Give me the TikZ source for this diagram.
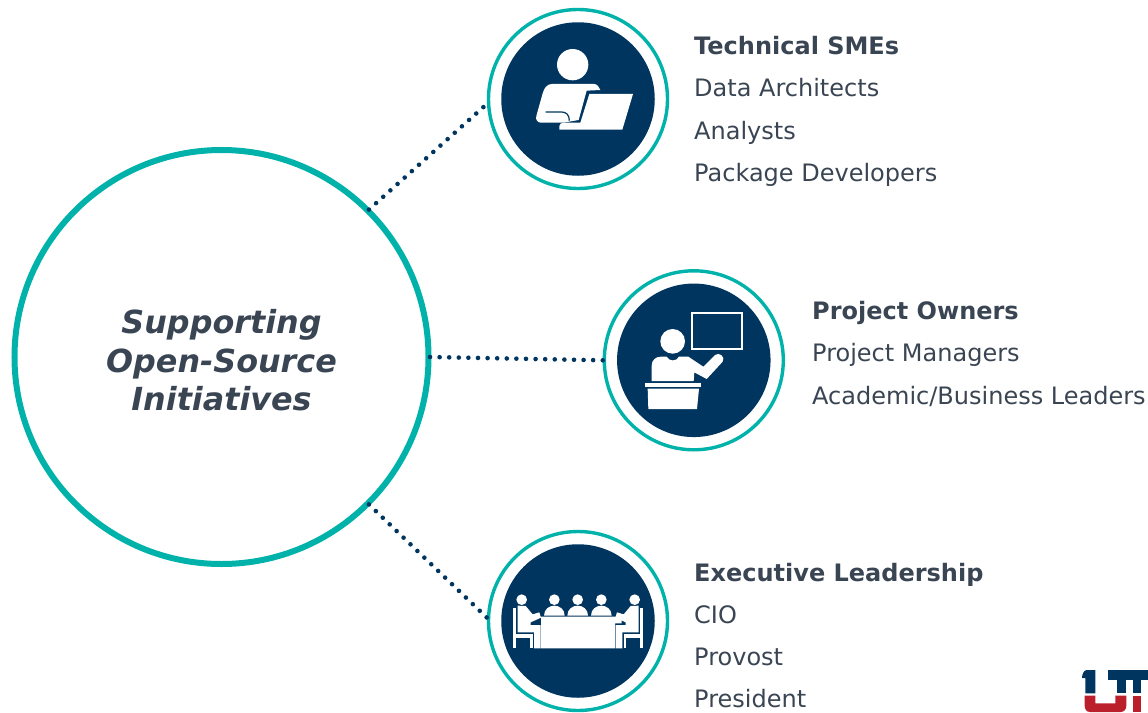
\documentclass[tikz,border=0pt]{standalone}
\usepackage{fontspec}
\setmainfont{DejaVu Sans}
\definecolor{navyblue}{HTML}{00355F}
\definecolor{tealring}{HTML}{00B2A9}
\definecolor{logored}{HTML}{BA1F2B}
\definecolor{slatetext}{HTML}{3A4553}
\newcommand{\seatedfigure}{
\fill [white] (125,224) circle [radius=16];
\fill [white] (100,248) rectangle (108,370);
\fill [white] (113,242) -- (137,243) -- (158,268) -- (178,262) -- (183,278) -- (152,292) -- (152,300) -- (182,300) -- (182,370) -- (162,370) -- (162,322) -- (113,322) -- cycle;
\fill [white] (108,328) rectangle (158,338);
\fill [white] (150,338) rectangle (158,370);
}
\begin{document}
\begin{tikzpicture}[x=1pt,y=-1pt]
\tikzstyle{hubring} = [circle, draw=tealring, line width=6pt, minimum size=414pt, outer sep=1.5pt, inner sep=0pt]
\tikzstyle{ring} = [circle, draw=tealring, line width=3.4pt, minimum size=179pt, outer sep=1.5pt, inner sep=0pt]
\tikzstyle{disc} = [circle, fill=navyblue, minimum size=153.5pt, inner sep=0pt]
\tikzstyle{dotline} = [navyblue, line width=4.6pt, line cap=round, dash pattern=on 0pt off 9.6pt]
\tikzstyle{listitem} = [anchor=west, inner sep=0pt, text height=17pt, text depth=5pt, text=slatetext, font=\fontsize{24}{28}\selectfont]
\tikzstyle{listhead} = [listitem, font=\fontsize{24}{28}\selectfont\bfseries]

\useasboundingbox (0,0) rectangle (1148,712);

\node (hub) [hubring] at (221.5,357) {};
\node (hublabel) [align=center, text=slatetext, font=\fontsize{31.8}{38.5}\selectfont\bfseries\itshape] at (221.5,360.5) {Supporting\\Open-Source\\Initiatives};

\node (techring) [ring] at (578,99) {};
\node (techdisc) [disc] at (techring.center) {};
\node (ownerring) [ring] at (693.8,360.3) {};
\node (ownerdisc) [disc] at (ownerring.center) {};
\node (execring) [ring] at (578,621) {};
\node (execdisc) [disc] at (execring.center) {};

\draw [dotline, shorten >=4pt] (hub.45) -- (techring.183.7);
\draw [dotline] (hub.0) -- (ownerring.180);
\draw [dotline] (hub.-45) -- (execring.178.3);

\matrix (techlist) [anchor=north west, row sep=20.5pt, inner sep=0pt] at (694,37)
{
\node (techhead) [listhead] {Technical SMEs}; \\
\node (architects) [listitem] {Data Architects}; \\
\node (analysts) [listitem] {Analysts}; \\
\node (developers) [listitem] {Package Developers}; \\
};

\matrix (ownerlist) [anchor=north west, row sep=20.5pt, inner sep=0pt] at (812,302)
{
\node (ownerhead) [listhead] {Project Owners}; \\
\node (managers) [listitem] {Project Managers}; \\
\node (leaders) [listitem] {Academic/Business Leaders}; \\
};

\matrix (execlist) [anchor=north west, row sep=20pt, inner sep=0pt] at (694,564)
{
\node (exechead) [listhead] {Executive Leadership}; \\
\node (cio) [listitem] {CIO}; \\
\node (provost) [listitem] {Provost}; \\
\node (president) [listitem] {President}; \\
};

\begin{scope}[shift={(480,0)},scale=1/3]
\fill [white] (278,194) circle [radius=47];
\fill [white] (215,252) -- (342,252) .. controls (352,252) and (358,262) .. (361,270) -- (320,272) -- (296,360) -- (250,368) -- (182,368) .. controls (172,368) and (166,358) .. (169,348) -- (188,280) .. controls (192,264) and (202,252) .. (215,252) -- cycle;
\draw [navyblue, line width=1.2pt] (197,336) -- (245,336) .. controls (258,336) and (268,344) .. (268,362);
\fill [white] (328,282) -- (459,282) -- (427,389) -- (238,389) -- (238,378) .. controls (238,372) and (244,368) .. (252,368) -- (301,368) -- cycle;
\end{scope}

\begin{scope}[shift={(595,265)},scale=1/3]
\fill [white] (233,229) circle [radius=37];
\draw [white, line width=1.8pt] (292,145) rectangle (441,251);
\fill [white] (170,348) -- (170,302) .. controls (170,285) and (182,275) .. (198,275) -- (215,275) .. controls (222,290) and (245,290) .. (252,275) -- (280,275) -- (325,305) -- (360,270) .. controls (372,260) and (392,275) .. (383,290) -- (335,342) -- (298,322) -- (296,348) -- cycle;
\fill [white] (150,353) rectangle (318,366);
\fill [white] (158,371) -- (312,371) -- (306,432) -- (160,432) -- cycle;
\end{scope}

\begin{scope}[shift={(480,525)},scale=1/3]
\fill [white] (183,275) -- (425,275) -- (425,295) -- (405,295) -- (405,370) -- (183,370) -- cycle;
\foreach \headx in {223,293,364}
{
\fill [white] (\headx,224) circle [radius=16];
\fill [white] (\headx-31,272) .. controls (\headx-31,252) and (\headx-15,242) .. (\headx,242) .. controls (\headx+15,242) and (\headx+31,252) .. (\headx+31,272) -- cycle;
}
\seatedfigure
\begin{scope}[shift={(589,0)},xscale=-1]
\seatedfigure
\end{scope}
\end{scope}

\begin{scope}[shift={(1078,664)},scale=1/3]
\fill [navyblue] (12,42) .. controls (12,30) and (18,18) .. (26,18) -- (52,18) -- (52,88) -- (22,88) -- (22,42) -- cycle;
\fill [navyblue] (90,18) rectangle (210,47);
\fill [navyblue] (118,47) rectangle (145,88);
\fill [navyblue] (165,47) rectangle (190,88);
\fill [logored] (20,95) -- (52,95) -- (52,118) -- (112,118) -- (112,95) -- (145,95) -- (145,125) .. controls (145,136) and (138,144) .. (128,144) -- (36,144) .. controls (26,144) and (20,136) .. (20,125) -- cycle;
\fill [logored] (165,95) rectangle (190,144);
\end{scope}

\end{tikzpicture}
\end{document}
